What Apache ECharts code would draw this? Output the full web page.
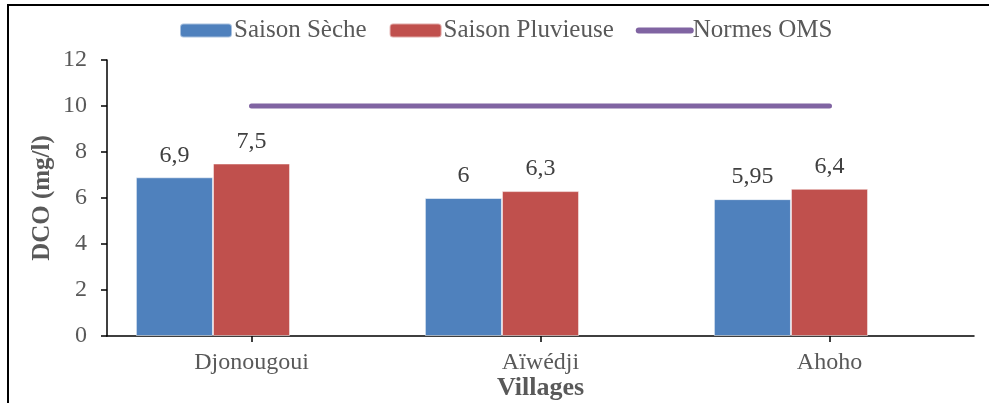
<!DOCTYPE html>
<html>
<head>
<meta charset="utf-8">
<script src="https://cdn.jsdelivr.net/npm/echarts@6/dist/echarts.min.js"></script>
<style>
html,body{margin:0;padding:0;background:#fff;}
#chart{position:absolute;left:0;top:0;width:989px;height:403px;}
#frame{position:absolute;left:7px;top:4px;width:990px;height:410px;border-top:2px solid #000;border-left:2px solid #000;pointer-events:none;}
</style>
</head>
<body>
<div id="chart"></div>
<div id="frame"></div>
<script>
const categories = ['Djonougoui', 'Aïwédji', 'Ahoho'];
const saisonSeche = [6.9, 6, 5.95];
const saisonPluvieuse = [7.5, 6.3, 6.4];
const normesOMS = [10, 10, 10];
const yTicks = [0, 2, 4, 6, 8, 10, 12];

const FONT = '"Liberation Serif", "Times New Roman", serif';
const fmt = v => String(v).replace('.', ',');

const chart = echarts.init(document.getElementById('chart'), null, {renderer: 'canvas'});
chart.setOption({
  animation: false,
  backgroundColor: '#fff',
  textStyle: {fontFamily: FONT},
  legend: {
    data: [
      'Saison Sèche',
      'Saison Pluvieuse',
      {name: 'Normes OMS', itemStyle: {opacity: 0}, lineStyle: {width: 6, cap: 'round', color: '#8064A2'}}
    ],
    top: 13,
    left: 174,
    itemWidth: 52,
    itemHeight: 14,
    itemGap: 22,
    textStyle: {fontFamily: FONT, fontSize: 25, color: '#595959', padding: [0, 0, 0, -3]}
  },
  grid: {left: 107, right: 15, top: 60, bottom: 67, containLabel: false, outerBoundsMode: 'none'},
  xAxis: {
    type: 'category',
    data: categories,
    boundaryGap: true,
    name: 'Villages',
    nameLocation: 'middle',
    nameGap: 39,
    nameMoveOverlap: false,
    nameTextStyle: {fontFamily: FONT, fontSize: 26, fontWeight: 'bold', color: '#595959'},
    axisLine: {lineStyle: {color: '#000', width: 1.5}},
    axisTick: {show: true, alignWithLabel: true, length: 6, lineStyle: {color: '#000', width: 1.5}},
    axisLabel: {fontFamily: FONT, fontSize: 24, color: '#595959', margin: 15}
  },
  yAxis: {
    type: 'value',
    min: yTicks[0],
    max: yTicks[yTicks.length - 1],
    interval: 2,
    name: 'DCO (mg/l)',
    nameLocation: 'middle',
    nameGap: 52,
    nameMoveOverlap: false,
    nameTextStyle: {fontFamily: FONT, fontSize: 25, fontWeight: 'bold', color: '#595959'},
    axisLine: {show: true, lineStyle: {color: '#000', width: 1.5}},
    axisTick: {show: true, length: 6, inside: false, lineStyle: {color: '#000', width: 1.5}},
    splitLine: {show: false},
    axisLabel: {fontFamily: FONT, fontSize: 24, color: '#595959', margin: 20}
  },
  series: [
    {
      name: 'Saison Sèche',
      type: 'bar',
      data: saisonSeche,
      barGap: '0%',
      barCategoryGap: '20%',
      itemStyle: {color: '#4F81BD', borderColor: 'rgba(255,255,255,0.5)', borderWidth: 1},
      label: {show: true, position: 'top', distance: 10, fontFamily: FONT, fontSize: 24, color: '#404040', formatter: p => fmt(p.value)}
    },
    {
      name: 'Saison Pluvieuse',
      type: 'bar',
      data: saisonPluvieuse,
      barGap: '0%',
      barCategoryGap: '20%',
      itemStyle: {color: '#C0504D', borderColor: 'rgba(255,255,255,0.5)', borderWidth: 1},
      label: {show: true, position: 'top', distance: 10, fontFamily: FONT, fontSize: 24, color: '#404040', formatter: p => fmt(p.value)}
    },
    {
      name: 'placeholder',
      type: 'bar',
      data: categories.map(() => '-'),
      barGap: '0%',
      barCategoryGap: '20%',
      silent: true
    },
    {
      name: 'Normes OMS',
      type: 'line',
      data: normesOMS,
      symbol: 'none',
      lineStyle: {color: '#8064A2', width: 5, cap: 'round'},
      itemStyle: {color: '#8064A2'},
      label: {
        show: true, position: 'top', distance: 7, fontFamily: FONT, fontSize: 24, color: '#404040',
        formatter: p => p.dataIndex === 1 ? fmt(p.value) : ''
      },
      z: 5
    }
  ]
});
</script>
</body>
</html>
